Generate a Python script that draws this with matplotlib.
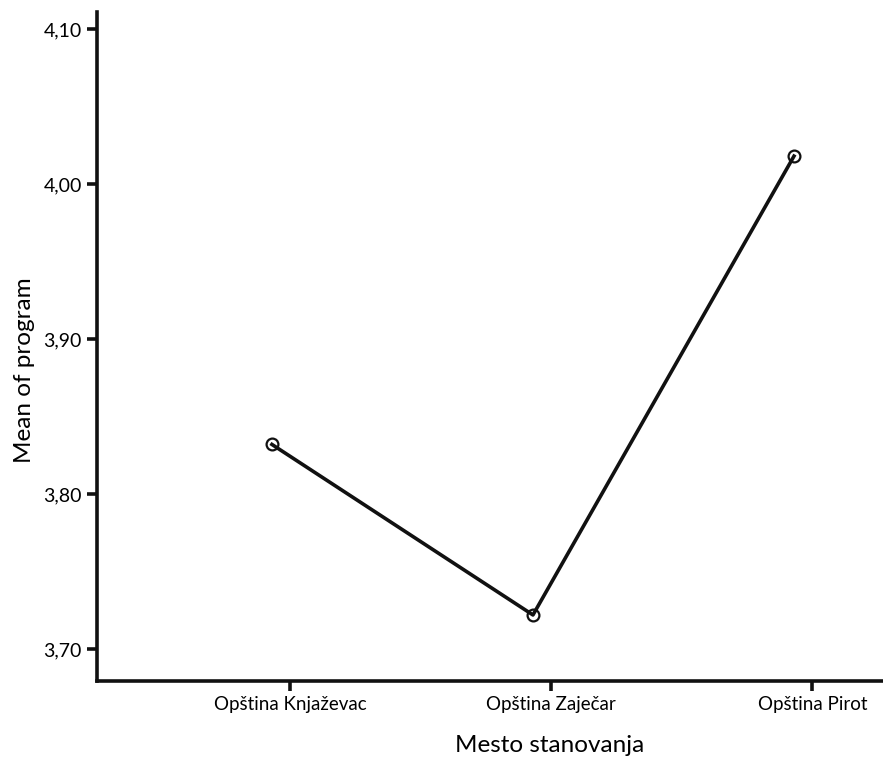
import matplotlib.pyplot as plt
from matplotlib.ticker import FuncFormatter, FixedLocator

plt.rcParams['font.family'] = ['Lato', 'DejaVu Sans']

# data
places = ['Opština Knjaževac', 'Opština Zaječar', 'Opština Pirot']
means = [3.832, 3.722, 4.018]
yticks = [3.70, 3.80, 3.90, 4.00, 4.10]

fig = plt.figure(figsize=(8.83, 7.58), dpi=100)
ax = fig.add_axes([0.1099, 0.1016, 0.8901, 0.8826])

xs = list(range(len(places)))
ax.plot(xs, means, color='#111111', lw=2.6, marker='o', ms=8.5,
        mfc='none', mec='#111111', mew=1.6)

# SPSS puts the category ticks a little right of the points
tick_shift = 0.07
ax.xaxis.set_major_locator(FixedLocator([x + tick_shift for x in xs]))
ax.set_xticklabels(places, fontsize=13.5)
ax.set_yticks(yticks)
ax.yaxis.set_major_formatter(FuncFormatter(lambda v, p: ('%.2f' % v).replace('.', ',')))
ax.tick_params(axis='y', labelsize=14)

ax.set_xlim(-0.67, 2.341)
ax.set_ylim(3.6794, 4.111)

for s in ['top', 'right']:
    ax.spines[s].set_visible(False)
for s in ['left', 'bottom']:
    ax.spines[s].set_linewidth(2.6)
    ax.spines[s].set_color('#111111')
ax.tick_params(direction='out', length=7, width=2.6, color='#111111', pad=4)

ax.set_xlabel('Mesto stanovanja', fontsize=17.5)
ax.set_ylabel('Mean of program', fontsize=17.5)
ax.xaxis.set_label_coords(0.576, -0.08)
ax.yaxis.set_label_coords(-0.079, 0.465)

fig.savefig('out.png', dpi=100)
